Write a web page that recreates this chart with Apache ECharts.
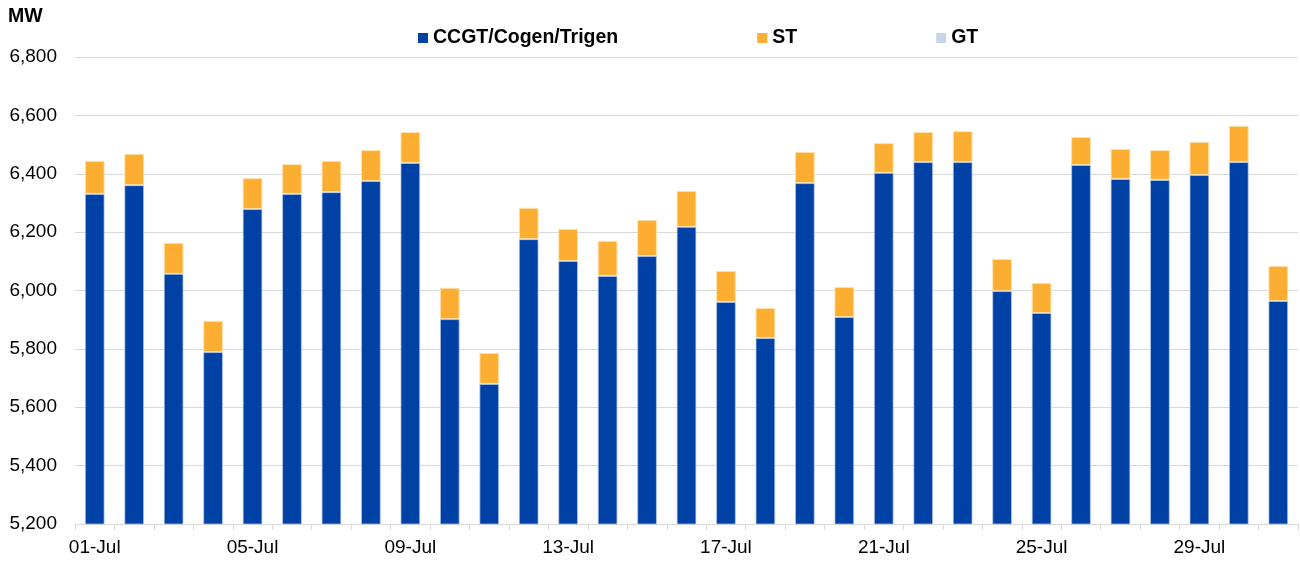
<!DOCTYPE html>
<html>
<head>
<meta charset="utf-8">
<script src="https://cdn.jsdelivr.net/npm/echarts@6/dist/echarts.min.js"></script>
<style>
html,body{margin:0;padding:0;background:#fff;}
#chart{width:1300px;height:563px;}
</style>
</head>
<body>
<div id="chart"></div>
<script>
const categories = ["01-Jul","02-Jul","03-Jul","04-Jul","05-Jul","06-Jul","07-Jul","08-Jul","09-Jul","10-Jul",
  "11-Jul","12-Jul","13-Jul","14-Jul","15-Jul","16-Jul","17-Jul","18-Jul","19-Jul","20-Jul",
  "21-Jul","22-Jul","23-Jul","24-Jul","25-Jul","26-Jul","27-Jul","28-Jul","29-Jul","30-Jul","31-Jul"];
const ccgt = [6331,6361,6057,5789,6279,6331,6337,6375,6437,5902,
  5680,6176,6101,6050,6118,6218,5961,5837,6368,5909,
  6403,6440,6440,5998,5923,6430,6382,6379,6396,6440,5964];
const st = [113,107,106,107,106,102,107,106,106,107,
  106,107,110,120,124,123,106,103,107,103,
  102,103,106,110,103,96,103,102,113,124,120];
const gt = [0,0,0,0,0,0,0,0,0,0,0,0,0,0,0,0,0,0,0,0,0,0,0,0,0,0,0,0,0,0,0];
const yTicks = {min:5200, max:6800, interval:200};

const font = "'Liberation Sans', Arial, sans-serif";
const chart = echarts.init(document.getElementById('chart'));
chart.setOption({
  animation:false,
  textStyle:{fontFamily:font},
  grid:{left:75, right:2, top:57, bottom:39, containLabel:false},
  legend:{
    top:28, left:418, padding:0,
    itemWidth:10, itemHeight:10, itemGap:139,
    icon:'rect',
    itemStyle:{borderWidth:0},
    textStyle:{fontFamily:font, fontSize:19.5, fontWeight:'bold', color:'#000'},
    data:['CCGT/Cogen/Trigen','ST','GT']
  },
  graphic:[{type:'text', left:8, top:7, style:{text:'MW', font:"bold 19.5px 'Liberation Sans', Arial", fill:'#000'}}],
  xAxis:{
    type:'category', data:categories,
    axisLine:{lineStyle:{color:'#d9d9d9', width:1}},
    axisTick:{show:true, alignWithLabel:false, interval:0, length:6, lineStyle:{color:'#d9d9d9'}},
    axisLabel:{interval:3, color:'#000', fontSize:19, margin:14, fontFamily:font}
  },
  yAxis:{
    type:'value', min:yTicks.min, max:yTicks.max, interval:yTicks.interval,
    axisLine:{show:false}, axisTick:{show:false},
    splitLine:{lineStyle:{color:'#d9d9d9', width:1}},
    axisLabel:{color:'#000', fontSize:19, margin:18, fontFamily:font,
      formatter:v=>v.toLocaleString('en-US')}
  },
  series:[
    {name:'CCGT/Cogen/Trigen', type:'bar', stack:'a', data:ccgt, barWidth:'50%',
      itemStyle:{color:'#0041a6', borderColor:'rgba(180,200,235,0.7)', borderWidth:1}},
    {name:'ST', type:'bar', stack:'a', data:st, barWidth:'50%',
      itemStyle:{color:'#fbae31', borderColor:'rgba(255,225,170,0.9)', borderWidth:1}},
    {name:'GT', type:'bar', stack:'a', data:gt, barWidth:'50%',
      itemStyle:{color:'#c6d6ea'}}
  ]
});
</script>
</body>
</html>
